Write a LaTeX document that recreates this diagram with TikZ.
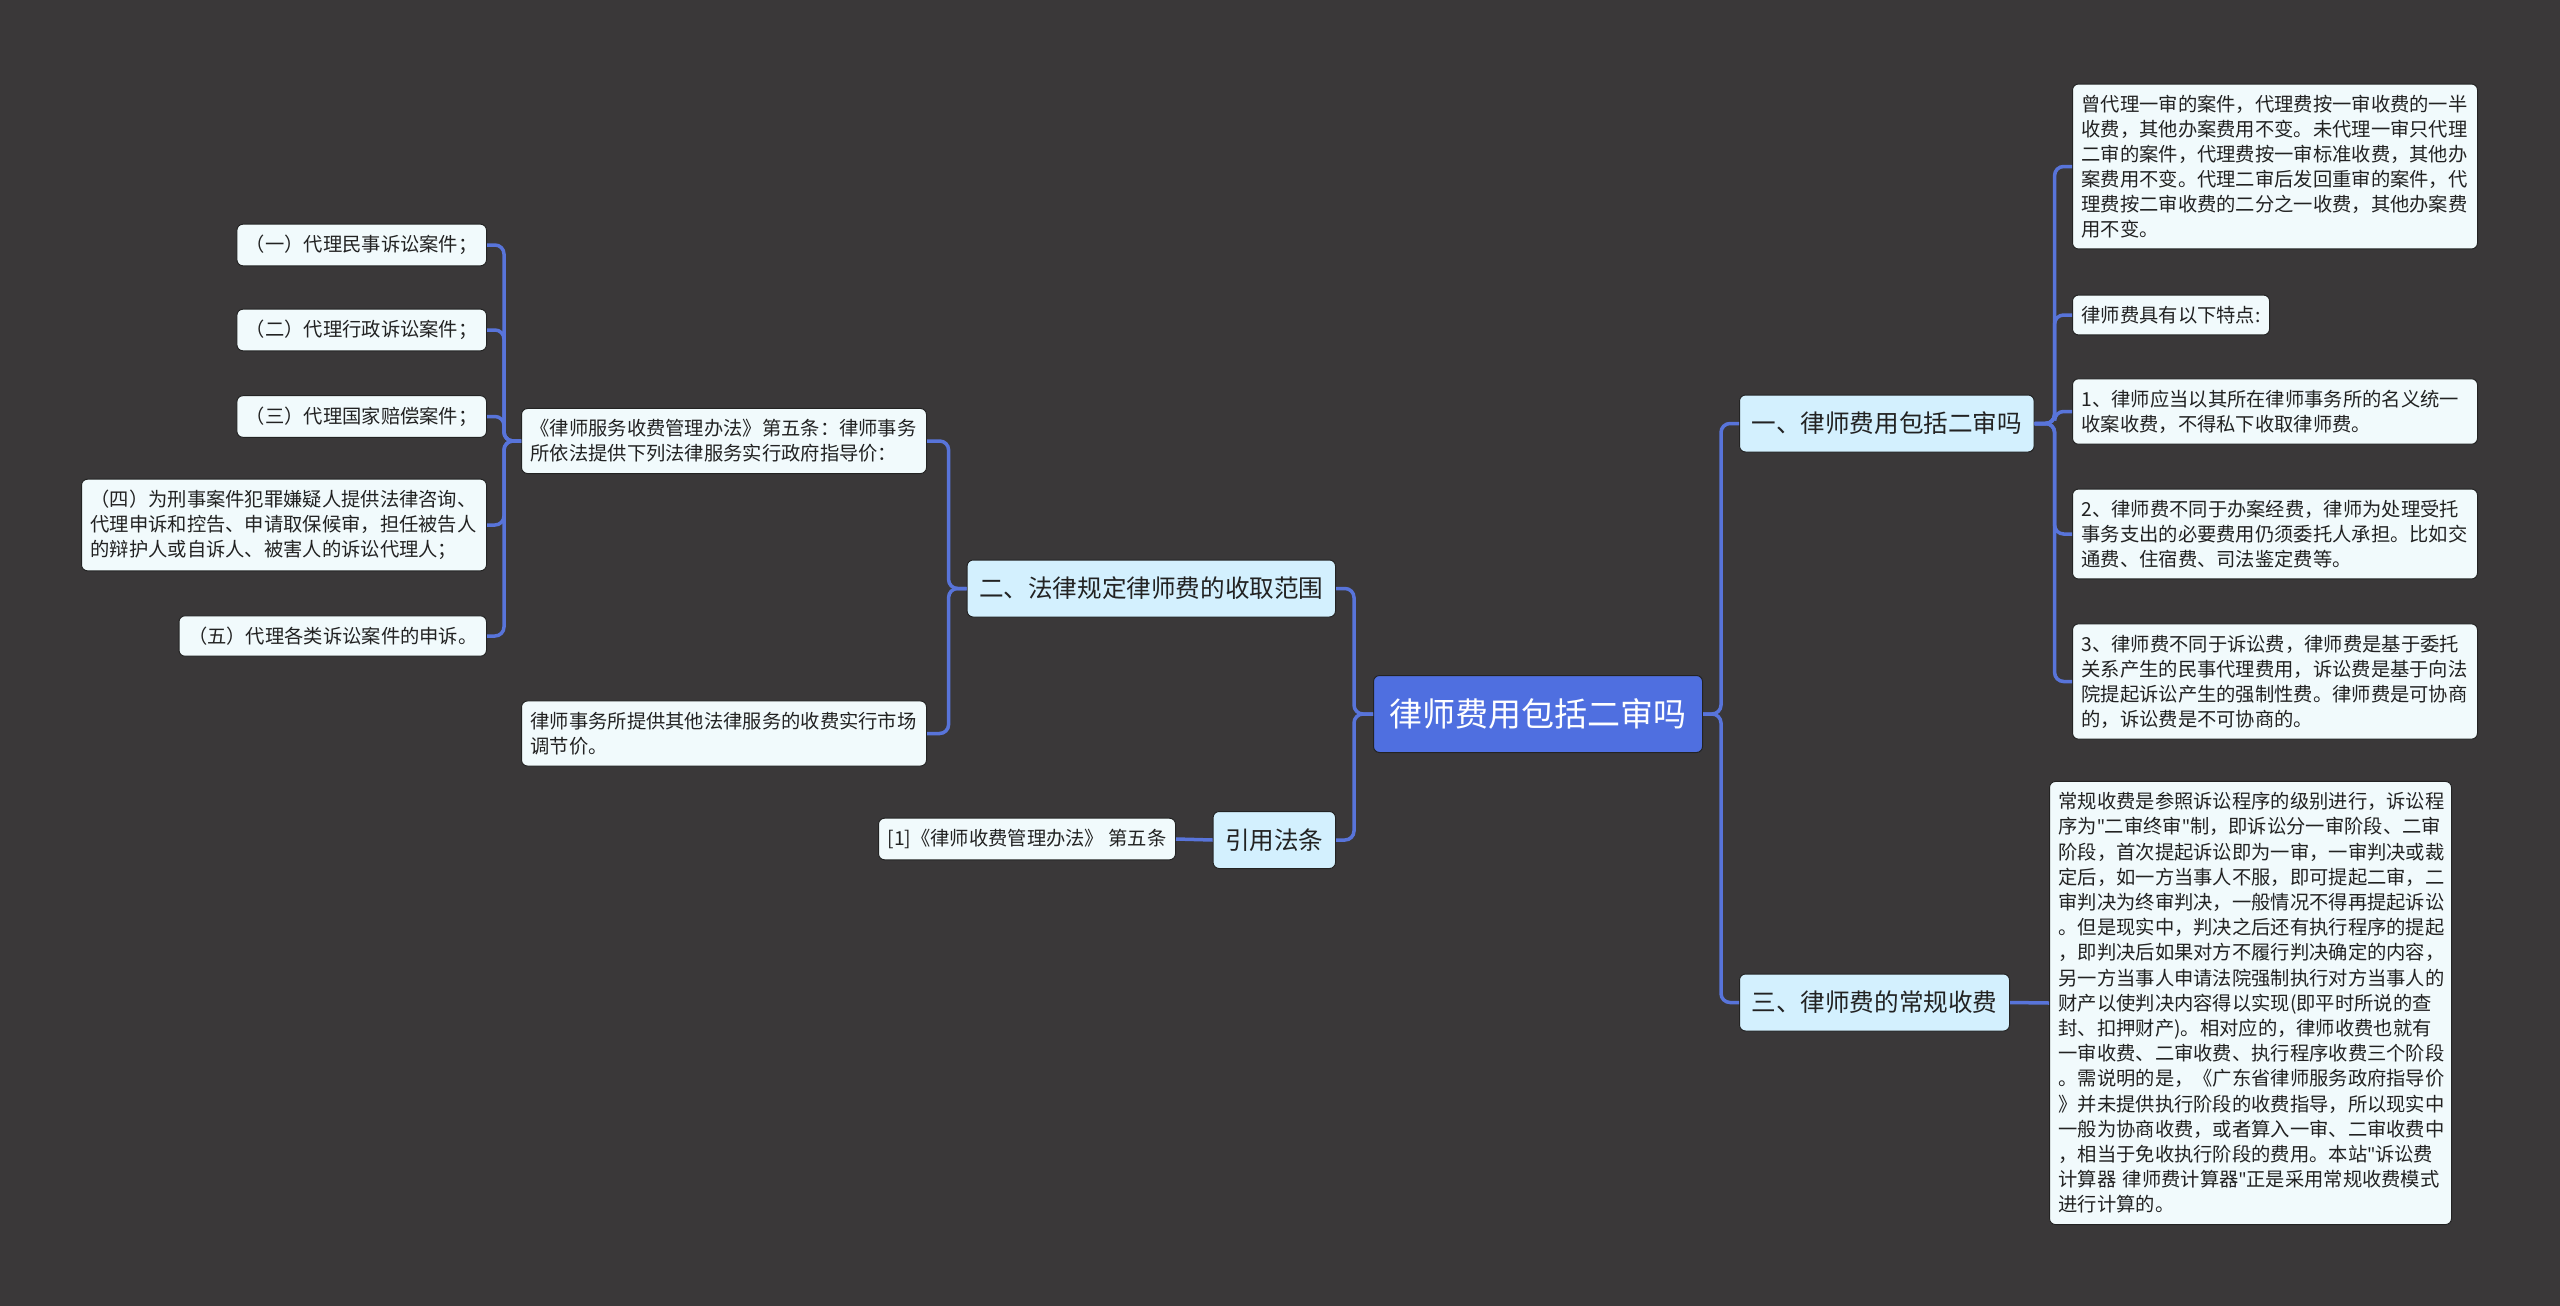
\documentclass[tikz,border=0pt]{standalone}
\usepackage{fontspec}
\setmainfont{Noto Sans CJK SC}
\newfontfamily\latfont{Noto Sans}
\usepackage{tikz}
\usetikzlibrary{positioning}
\definecolor{bgd}{HTML}{3A3839}
\definecolor{lnk}{HTML}{5874DA}
\definecolor{rootc}{HTML}{4F6FE0}
\definecolor{brc}{HTML}{D3F0FE}
\definecolor{leafc}{HTML}{F1FAFC}
\definecolor{edgec}{HTML}{232323}
\definecolor{txt}{HTML}{222222}
\newcommand{\dq}{{\latfont\char"22}}
\tikzset{
  % boxes of the mind map, one level per style
  rootbox/.style = {rectangle, rounded corners=6pt, fill=rootc, draw=edgec, line width=1pt,
                    text=white, inner xsep=16pt, minimum height=77pt,
                    font=\fontsize{33}{40}\selectfont},
  brbox/.style   = {rectangle, rounded corners=6pt, fill=brc, draw=edgec, line width=1pt,
                    text=txt, inner xsep=12pt, minimum height=57pt,
                    font=\fontsize{24.6}{30}\selectfont},
  leaf/.style    = {rectangle, rounded corners=6pt, fill=leafc, draw=edgec, line width=1pt,
                    text=txt, align=left, inner xsep=9pt, inner ysep=11pt,
                    font=\fontsize{19.3}{25}\selectfont},
  wide/.style    = {text width=387pt},
  link/.style    = {draw=lnk, line width=3.5pt, rounded corners=9pt},
}

\begin{document}
\begin{tikzpicture}[x=1pt,y=-1pt]
\fill[bgd] (0,0) rectangle (2560,1306);
\useasboundingbox (0,0) rectangle (2560,1306);

\node[rootbox] (root) at (1538,714) {律师费用包括二审吗};

% right side
\node[brbox, anchor=west] (b1) at (1739,423.5) {一、律师费用包括二审吗};
\node[brbox, anchor=west] (b3) at (1739,1002.5) {三、律师费的常规收费};

\node[leaf, wide, anchor=west] (l1) at (2072,166.5) {曾代理一审的案件，代理费按一审收费的一半\\
收费，其他办案费用不变。未代理一审只代理\\
二审的案件，代理费按一审标准收费，其他办\\
案费用不变。代理二审后发回重审的案件，代\\
理费按二审收费的二分之一收费，其他办案费\\
用不变。};
\node[leaf, anchor=west] (l2) at (2072,315) {律师费具有以下特点:};
\node[leaf, wide, anchor=west] (l3) at (2072,411.5) {1、律师应当以其所在律师事务所的名义统一\\
收案收费，不得私下收取律师费。};
\node[leaf, wide, anchor=west] (l4) at (2072,534) {2、律师费不同于办案经费，律师为处理受托\\
事务支出的必要费用仍须委托人承担。比如交\\
通费、住宿费、司法鉴定费等。};
\node[leaf, wide, anchor=west] (l5) at (2072,681.5) {3、律师费不同于诉讼费，律师费是基于委托\\
关系产生的民事代理费用，诉讼费是基于向法\\
院提起诉讼产生的强制性费。律师费是可协商\\
的，诉讼费是不可协商的。};
\node[leaf, anchor=west, text width=384pt, font=\fontsize{19.3}{25.2}\selectfont] (l6) at (2049,1003)
{常规收费是参照诉讼程序的级别进行，诉讼程\\
序为\dq 二审终审\dq 制，即诉讼分一审阶段、二审\\
阶段，首次提起诉讼即为一审，一审判决或裁\\
定后，如一方当事人不服，即可提起二审，二\\
审判决为终审判决，一般情况不得再提起诉讼\\
。但是现实中，判决之后还有执行程序的提起\\
，即判决后如果对方不履行判决确定的内容，\\
另一方当事人申请法院强制执行对方当事人的\\
财产以使判决内容得以实现(即平时所说的查\\
封、扣押财产)。相对应的，律师收费也就有\\
一审收费、二审收费、执行程序收费三个阶段\\
。需说明的是，《广东省律师服务政府指导价\\
》并未提供执行阶段的收费指导，所以现实中\\
一般为协商收费，或者算入一审、二审收费中\\
，相当于免收执行阶段的费用。本站\dq 诉讼费\\
计算器 律师费计算器\dq 正是采用常规收费模式\\
进行计算的。};

% left side
\node[brbox, anchor=east] (b2) at (1336,588.5) {二、法律规定律师费的收取范围};
\node[brbox, anchor=east] (b4) at (1336,840) {引用法条};

\node[leaf, wide, anchor=east] (law) at (927,441) {《律师服务收费管理办法》第五条：律师事务\\
所依法提供下列法律服务实行政府指导价：};
\node[leaf, wide, anchor=east] (mkt) at (927,733.5) {律师事务所提供其他法律服务的收费实行市场\\
调节价。};
\node[leaf, anchor=east] (ref) at (1176,839) {[1]《律师收费管理办法》 第五条};

\node[leaf, anchor=east] (c1) at (487,245) {（一）代理民事诉讼案件；};
\node[leaf, anchor=east] (c2) at (487,330) {（二）代理行政诉讼案件；};
\node[leaf, anchor=east] (c3) at (487,416.5) {（三）代理国家赔偿案件；};
\node[leaf, wide, anchor=east] (c4) at (487,525) {（四）为刑事案件犯罪嫌疑人提供法律咨询、\\
代理申诉和控告、申请取保候审，担任被告人\\
的辩护人或自诉人、被害人的诉讼代理人；};
\node[leaf, anchor=east] (c5) at (487,636) {（五）代理各类诉讼案件的申诉。};

% connectors
\foreach \k in {b1,b3} \draw[link] (root.east) -- ++(18,0) |- (\k.west);
\foreach \k in {b2,b4} \draw[link] (root.west) -- ++(-19,0) |- (\k.east);
\foreach \k in {l1,l2,l3,l4,l5} \draw[link] (b1.east) -- ++(20,0) |- (\k.west);
\draw[link] (b3.east) -- (l6.west);
\foreach \k in {law,mkt} \draw[link] (b2.west) -- ++(-18,0) |- (\k.east);
\draw[link] (b4.west) -- (ref.east);
\foreach \k in {c1,c2,c3,c4,c5} \draw[link] (law.west) -- ++(-17,0) |- (\k.east);
\end{tikzpicture}
\end{document}
